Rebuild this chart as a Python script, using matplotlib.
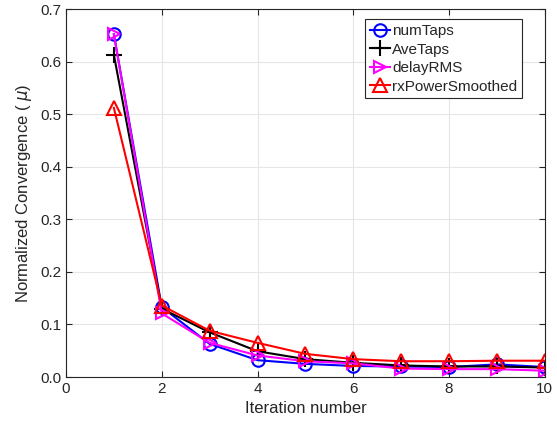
import matplotlib.pyplot as plt

iters = [1, 2, 3, 4, 5, 6, 7, 8, 9, 10]
num_taps = [0.652, 0.133, 0.063, 0.032, 0.025, 0.021, 0.020, 0.019, 0.024, 0.019]
ave_taps = [0.613, 0.130, 0.085, 0.049, 0.034, 0.027, 0.022, 0.020, 0.020, 0.018]
delay_rms = [0.652, 0.121, 0.065, 0.041, 0.030, 0.026, 0.016, 0.015, 0.015, 0.012]
rx_power = [0.512, 0.136, 0.088, 0.065, 0.044, 0.034, 0.030, 0.030, 0.031, 0.031]

plt.rcParams['font.family'] = ['Liberation Sans', 'DejaVu Sans']
plt.rcParams['text.color'] = '#262626'

fig = plt.figure(figsize=(5.57, 4.32), dpi=100)
ax = fig.add_axes([0.1185, 0.1273, 0.8595, 0.8517])

ax.plot(iters, num_taps, color='blue', marker='o', markersize=9, mfc='none', mew=1.5, lw=1.5, label='numTaps')
ax.plot(iters, ave_taps, color='black', marker='+', markersize=11, mew=1.5, lw=1.5, label='AveTaps')
ax.plot(iters, delay_rms, color='magenta', marker='>', markersize=9, mfc='none', mew=1.5, lw=1.5, label='delayRMS')
ax.plot(iters, rx_power, color='red', marker='^', markersize=10, mfc='none', mew=1.5, lw=1.5, label='rxPowerSmoothed')

ax.set_xlim(0, 10)
ax.set_ylim(0, 0.7)
ax.set_xticks([0, 2, 4, 6, 8, 10])
ax.set_yticks([0, 0.1, 0.2, 0.3, 0.4, 0.5, 0.6, 0.7])
ax.set_xlabel('Iteration number', fontsize=12, color='#262626')
ax.set_ylabel('Normalized Convergence ( $\\mu$)', fontsize=12, color='#262626')

ax.grid(True, color='#e6e6e6', lw=0.8)
ax.set_axisbelow(True)
ax.tick_params(direction='in', labelsize=11, top=True, right=True, length=4,
               color='#262626', labelcolor='#262626')
for s in ax.spines.values():
    s.set_color('#262626')
    s.set_linewidth(0.8)

leg = ax.legend(loc='upper right', bbox_to_anchor=(0.952, 0.972), fontsize=11, fancybox=False,
                framealpha=1, edgecolor='#262626', handlelength=1.3, handletextpad=0.15,
                borderpad=0.3, labelspacing=0.3, borderaxespad=0.0)
leg.get_frame().set_linewidth(0.8)

plt.savefig('out.png', dpi=100)
